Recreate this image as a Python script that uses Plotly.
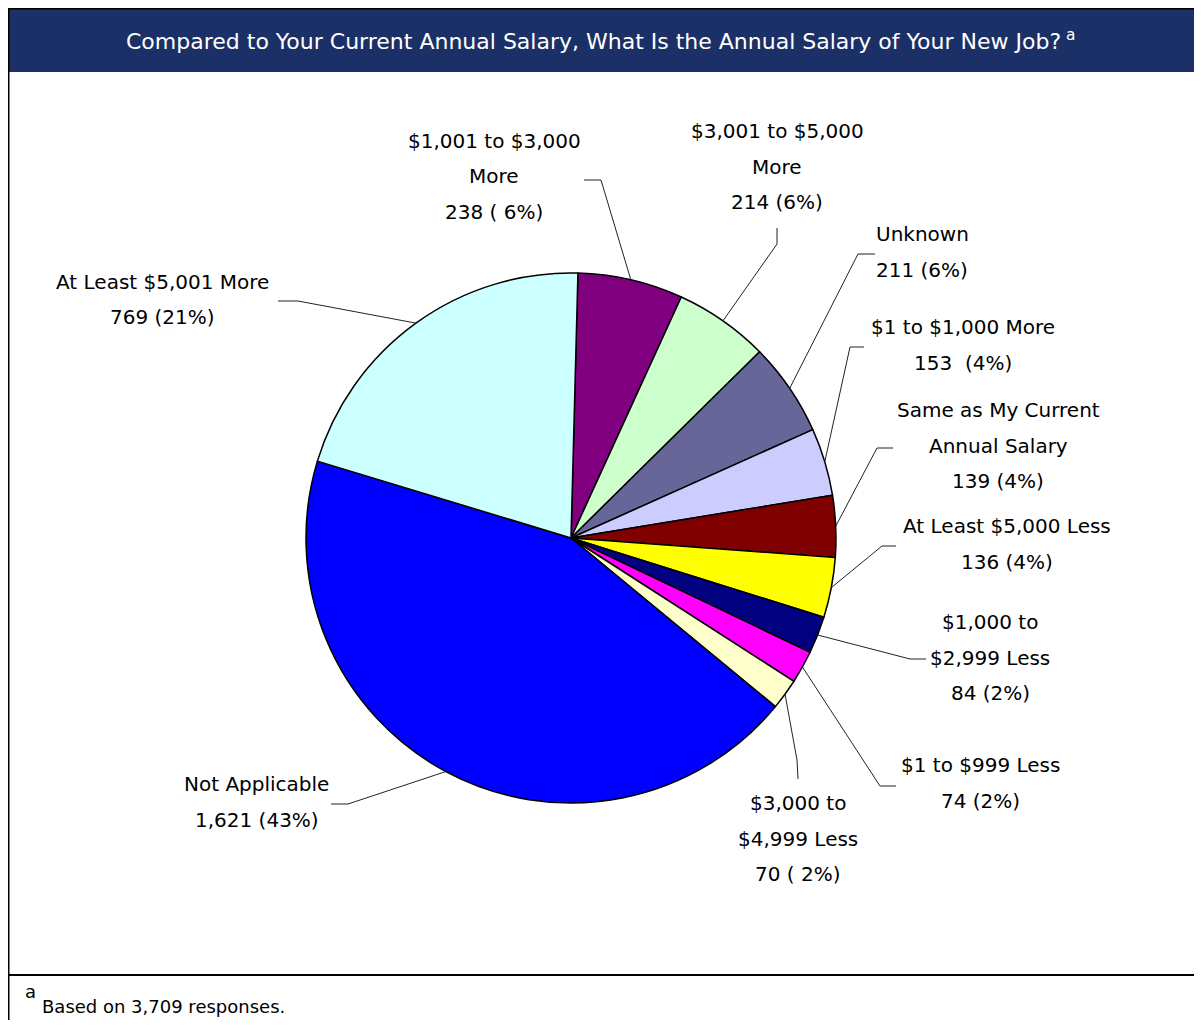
import math
import plotly.graph_objects as go

# ---- data ----
categories = [
    "$1,001 to $3,000 More",
    "$3,001 to $5,000 More",
    "Unknown",
    "$1 to $1,000 More",
    "Same as My Current Annual Salary",
    "At Least $5,000 Less",
    "$1,000 to $2,999 Less",
    "$1 to $999 Less",
    "$3,000 to $4,999 Less",
    "Not Applicable",
    "At Least $5,001 More",
]
counts = [238, 214, 211, 153, 139, 136, 84, 74, 70, 1621, 769]
label_lines = [
    ["$1,001 to $3,000", "More", "238 ( 6%)"],
    ["$3,001 to $5,000", "More", "214 (6%)"],
    ["Unknown", "211 (6%)"],
    ["$1 to $1,000 More", "153  (4%)"],
    ["Same as My Current", "Annual Salary", "139 (4%)"],
    ["At Least $5,000 Less", "136 (4%)"],
    ["$1,000 to", "$2,999 Less", "84 (2%)"],
    ["$1 to $999 Less", "74 (2%)"],
    ["$3,000 to", "$4,999 Less", "70 ( 2%)"],
    ["Not Applicable", "1,621 (43%)"],
    ["At Least $5,001 More", "769 (21%)"],
]
colors = ["#800080", "#CCFFCC", "#666699", "#CCCCFF", "#800000", "#FFFF00",
          "#000080", "#FF00FF", "#FFFFCC", "#0000FF", "#CCFFFF"]
title_text = "Compared to Your Current Annual Salary, What Is the Annual Salary of Your New Job?"
footnote_text = "Based on 3,709 responses."

# ---- layout (pixels in the screenshot; page body has an 8px margin) ----
OFF = 8
W, H = 1202 - OFF, 1028 - 2 * OFF
CX, CY, R = 571, 538, 265
ROT = 1.5
# label placement: (text center x, first line center y, elbow x, elbow y, end x, end y)
label_pos = [
    (494, 141, 601, 180, 584, 180),
    (777, 131, 777, 244, 777, 228),
    (922, 234, 858, 254, 875, 254),
    (963, 327, 850, 347, 864, 347),
    (998, 410, 877, 448, 893, 448),
    (1007, 526, 882, 546, 896, 546),
    (990, 622, 910, 659, 926, 659),
    (980, 765, 880, 786, 896, 786),
    (798, 803, 797, 760, 798, 779),
    (257, 784, 348, 804, 331, 804),
    (162, 282, 298, 301, 278, 301),
]
LINE_H = 35.5
FONT = "DejaVu Sans"


def px(x):
    return (x - OFF) / W


def py(y):
    return 1 - (y - OFF) / H


fig = go.Figure()
fig.add_trace(go.Pie(
    labels=categories, values=counts, sort=False, direction="clockwise",
    rotation=ROT, textinfo="none", hoverinfo="label+value+percent",
    marker=dict(colors=colors, line=dict(color="black", width=1.5)),
    domain=dict(x=[px(CX - R), px(CX + R)], y=[py(CY + R), py(CY - R)]),
    showlegend=False,
))

shapes = []
annotations = []

# header / frame
shapes.append(dict(type="rect", xref="paper", yref="paper", x0=px(9), x1=px(1210),
                   y0=py(72), y1=py(9), fillcolor="#1B3066", line=dict(width=0), layer="below"))
shapes.append(dict(type="line", xref="paper", yref="paper", x0=px(8), x1=px(1210),
                   y0=py(8.5), y1=py(8.5), line=dict(color="black", width=2)))
shapes.append(dict(type="line", xref="paper", yref="paper", x0=px(8.5), x1=px(8.5),
                   y0=py(8), y1=py(1040), line=dict(color="black", width=2)))
shapes.append(dict(type="line", xref="paper", yref="paper", x0=px(8), x1=px(1210),
                   y0=py(975), y1=py(975), line=dict(color="black", width=2)))

annotations.append(dict(xref="paper", yref="paper", x=px(600), y=py(40),
                        text=title_text + "<sup> a</sup>", showarrow=False,
                        xanchor="center", yanchor="middle",
                        font=dict(family=FONT, size=22, color="white")))
annotations.append(dict(xref="paper", yref="paper", x=px(23), y=py(991),
                        text="a", showarrow=False, xanchor="left", yanchor="middle",
                        font=dict(family=FONT, size=18, color="black")))
annotations.append(dict(xref="paper", yref="paper", x=px(40), y=py(1006),
                        text=footnote_text, showarrow=False, xanchor="left", yanchor="middle",
                        font=dict(family=FONT, size=18, color="black")))

# labels and leader lines
total = sum(counts)
cum = 0
for i, v in enumerate(counts):
    mid = (cum + v / 2) / total * 360 + ROT
    cum += v
    ex = CX + R * math.sin(math.radians(mid))
    ey = CY - R * math.cos(math.radians(mid))
    tx, ty, bx, by, qx, qy = label_pos[i]
    shapes.append(dict(type="path", xref="paper", yref="paper",
                       path=f"M {px(ex)},{py(ey)} L {px(bx)},{py(by)} L {px(qx)},{py(qy)}",
                       line=dict(color="#222222", width=1)))
    for k, line in enumerate(label_lines[i]):
        annotations.append(dict(xref="paper", yref="paper", x=px(tx), y=py(ty + k * LINE_H),
                                text=line, showarrow=False, xanchor="center", yanchor="middle",
                                font=dict(family=FONT, size=20, color="black")))

fig.update_layout(width=W, height=H, margin=dict(l=0, r=0, t=0, b=0),
                  paper_bgcolor="white", plot_bgcolor="white",
                  shapes=shapes, annotations=annotations)
fig.write_html("out.html")
